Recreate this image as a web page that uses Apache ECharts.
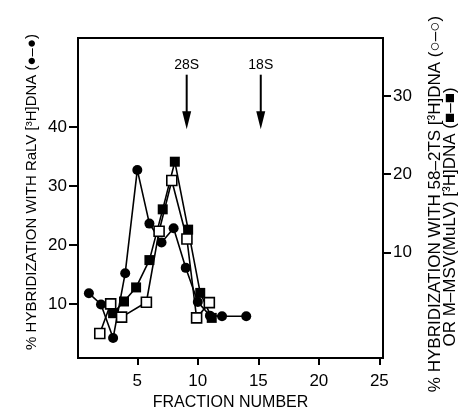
<!DOCTYPE html>
<html>
<head>
<meta charset="utf-8">
<script src="https://cdn.jsdelivr.net/npm/echarts@6/dist/echarts.min.js"></script>
<style>html,body{margin:0;padding:0;background:#fff}#c{width:473px;height:416px}</style>
</head>
<body>
<div id="c"></div>
<script>
// ---- data ----
const fractionsRaLV = [1, 2, 3, 4, 5, 6, 7, 8, 9, 10, 11, 12, 14];
const hybridRaLV    = [11.8, 9.9, 4.2, 15.2, 32.7, 23.6, 20.4, 22.8, 16.1, 10.3, 8.0, 7.9, 7.9];
const fractions58   = [1.9, 2.8, 3.7, 5.75, 6.8, 7.85, 9.1, 9.9, 10.95];
const hybrid58      = [-0.4, 3.4, 1.7, 3.6, 12.7, 19.2, 11.7, 1.6, 3.55];
const fractionsMSV  = [3.0, 3.9, 4.9, 6.0, 7.1, 8.1, 9.2, 10.2, 11.15];
const hybridMSV     = [2.2, 3.7, 5.5, 9.0, 15.5, 21.6, 12.9, 4.8, 1.6];
const xTicks     = [5, 10, 15, 20, 25];
const leftTicks  = [10, 20, 30, 40];
const rightTicks = [10, 20, 30];
const markerNames     = ['28S', '18S'];
const markerFractions = [9.08, 15.2];

const pair = (xs, ys) => xs.map((x, i) => [x, ys[i]]);

const chart = echarts.init(document.getElementById('c'), null, {renderer: 'canvas'});
const FONT = '"Liberation Sans", Arial, sans-serif';
const ARROW = {labelY: 50.4, top: 48.85, tip: 39.6};

const option = {
  animation: false,
  grid: {left: 78, right: 90, top: 38, bottom: 55, show: true, borderColor: '#000', borderWidth: 2, backgroundColor: 'transparent'},
  xAxis: {
    type: 'value', min: 0.1, max: 25.3,
    axisLine: {onZero: false, lineStyle: {color: '#000', width: 2}},
    axisTick: {show: true, length: 7, inside: false, lineStyle: {color: '#000', width: 2}, customValues: xTicks},
    axisLabel: {color: '#000', fontSize: 17, fontFamily: FONT, margin: 15, customValues: xTicks},
    splitLine: {show: false},
    name: 'FRACTION NUMBER', nameLocation: 'middle', nameGap: 30,
    nameTextStyle: {color: '#000', fontSize: 16, fontFamily: FONT}
  },
  yAxis: [{
    type: 'value', min: 0.8, max: 55.07, position: 'left',
    axisLine: {show: true, onZero: false, lineStyle: {color: '#000', width: 2}},
    axisTick: {show: true, length: 9, lineStyle: {color: '#000', width: 2}, customValues: leftTicks},
    axisLabel: {color: '#000', fontSize: 17, fontFamily: FONT, margin: 11, customValues: leftTicks},
    splitLine: {show: false}
  }, {
    type: 'value', min: -3.55, max: 37.44, position: 'right',
    axisLine: {show: true, onZero: false, lineStyle: {color: '#000', width: 2}},
    axisTick: {show: true, length: 8, lineStyle: {color: '#000', width: 2}, customValues: rightTicks},
    axisLabel: {color: '#000', fontSize: 17, fontFamily: FONT, margin: 10, customValues: rightTicks},
    splitLine: {show: false}
  }],
  graphic: [{
    type: 'text', x: 32, y: 192, rotation: Math.PI / 2,
    style: {text: '% HYBRIDIZATION WITH RaLV [³H]DNA (●–●)', font: '15px ' + FONT, fill: '#000', textAlign: 'center', textVerticalAlign: 'middle'}
  }, {
    type: 'text', x: 435, y: 204, rotation: Math.PI / 2,
    style: {text: '% HYBRIDIZATION WITH 58–2TS [³H]DNA (○–○)', font: '17px ' + FONT, fill: '#000', textAlign: 'center', textVerticalAlign: 'middle'}
  }, {
    type: 'text', x: 450, y: 217, rotation: Math.PI / 2,
    style: {text: 'OR M–MSV(MuLV) [³H]DNA (■–■)', font: '17px ' + FONT, fill: '#000', textAlign: 'center', textVerticalAlign: 'middle'}
  }],
  series: [{
    type: 'line', yAxisIndex: 0, data: pair(fractionsRaLV, hybridRaLV),
    symbol: 'circle', symbolSize: 10,
    lineStyle: {color: '#000', width: 1.6}, itemStyle: {color: '#000'},
    emphasis: {disabled: true}, z: 2
  }, {
    type: 'line', yAxisIndex: 1, data: pair(fractionsMSV, hybridMSV),
    symbol: 'rect', symbolSize: 10,
    lineStyle: {color: '#000', width: 1.6}, itemStyle: {color: '#000'},
    emphasis: {disabled: true}, z: 3
  }, {
    type: 'line', yAxisIndex: 1, data: pair(fractions58, hybrid58),
    symbol: 'rect', symbolSize: 10, showAllSymbol: true,
    lineStyle: {color: '#000', width: 1.6}, itemStyle: {color: '#fff', borderColor: '#000', borderWidth: 1.6},
    emphasis: {disabled: true}, z: 4
  }, {
    type: 'custom', yAxisIndex: 0, silent: true,
    data: markerFractions.map((f, i) => ({value: [f, 0], name: markerNames[i]})),
    renderItem: function (params, api) {
      const x = api.coord([api.value(0), ARROW.top])[0];
      const yTop = api.coord([api.value(0), ARROW.top])[1];
      const yTip = api.coord([api.value(0), ARROW.tip])[1];
      const yLab = api.coord([api.value(0), ARROW.labelY])[1];
      const name = markerNames[params.dataIndex];
      return {type: 'group', children: [
        {type: 'line', shape: {x1: x, y1: yTop, x2: x, y2: yTip - 10}, style: {stroke: '#000', lineWidth: 2}},
        {type: 'polygon', shape: {points: [[x - 4.5, yTip - 18], [x + 4.5, yTip - 18], [x, yTip]]}, style: {fill: '#000'}},
        {type: 'text', x: x, y: yLab, style: {text: name, font: '14px ' + FONT, fill: '#000', textAlign: 'center', textVerticalAlign: 'middle'}}
      ]};
    }
  }]
};
chart.setOption(option);
</script>
</body>
</html>
